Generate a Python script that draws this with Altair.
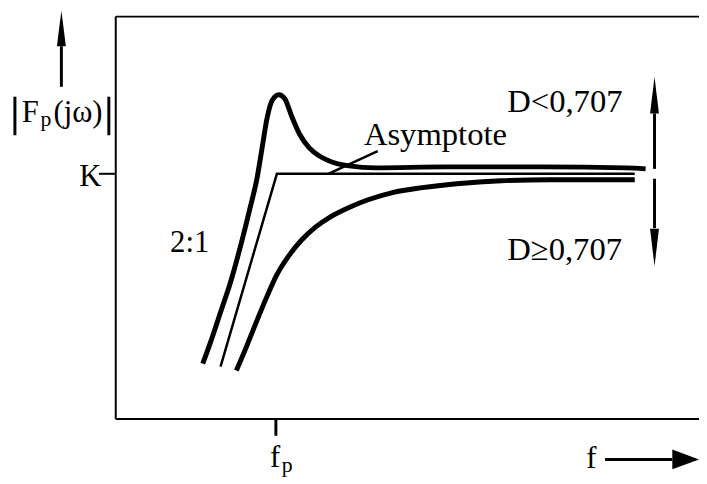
import altair as alt
import pandas as pd

# ---- data (plot units: x to the right of the frame, y above the bottom frame) ----
under_x = [88, 96, 106, 116, 126, 136, 143, 148, 153, 158, 165, 171, 178, 186, 196, 206, 216, 236, 263, 333, 433, 516, 536]
under_y = [56, 78, 108, 138, 174, 214, 244, 274, 304, 322, 328, 324, 306, 288, 274, 266, 261, 256, 254, 255, 255, 254, 253]

over_x = [122, 133, 143, 153, 163, 175, 188, 202, 218, 236, 256, 280, 310, 345, 390, 440, 490, 525]
over_y = [49, 75, 100, 124, 146, 165, 181, 194, 205, 214, 222, 229, 234, 238, 241, 242, 242, 242]

asym_x = [106, 163, 525]
asym_y = [53, 248, 248]

pointer_x = [215, 265]
pointer_y = [248, 271]

K_level = 248
fp_pos = 162

labels = ["F", "p", "(jω)", "K", "2:1", "Asymptote", "D<0,707", "D≥0,707", "f", "p", "f"]
label_x = [-95, -76, -63, -37, 55, 251, 396, 396, 156, 168, 476]
label_y = [300, 296, 300, 236, 169, 277, 311, 161, -49, -54, -50]
label_size = [31, 22, 31, 31, 31, 33, 33, 33, 31, 22, 31]

FONT = "Liberation Serif"
W, H = 590, 407

xs = alt.Scale(domain=[0, W], nice=False, zero=False)
ys = alt.Scale(domain=[0, H], nice=False, zero=False)


def curve(xv, yv, width, interp):
    df = pd.DataFrame({"x": xv, "y": yv, "i": range(len(xv))})
    return alt.Chart(df).mark_line(color="black", strokeWidth=width, interpolate=interp).encode(
        x=alt.X("x:Q", scale=xs, axis=None),
        y=alt.Y("y:Q", scale=ys, axis=None),
        order="i:Q",
    )


under = curve(under_x, under_y, 5, "monotone")
over = curve(over_x, over_y, 5, "monotone")
asym = curve(asym_x, asym_y, 2.5, "linear")
pointer = curve(pointer_x, pointer_y, 2.5, "linear")

# frame, ticks, arrow shafts, magnitude bars
rules = pd.DataFrame({
    "x":  [0, 0, 0, -17, fp_pos, -55, 545, 545, 495, -102, -7],
    "x2": [0, W, W, 0, fp_pos, -55, 545, 545, 563, -102, -7],
    "y":  [0, H, 0, K_level, -17, 336, 253, 243, -41, 287, 287],
    "y2": [H, H, 0, K_level, 0, 377, 309, 193, -41, 326, 326],
    "w":  [2, 2, 2, 2, 3, 3, 3, 3, 3, 3, 3],
})
rule_layer = alt.Chart(rules).mark_rule(color="black").encode(
    x=alt.X("x:Q", scale=xs, axis=None),
    x2="x2:Q",
    y=alt.Y("y:Q", scale=ys, axis=None),
    y2="y2:Q",
    strokeWidth=alt.StrokeWidth("w:Q", scale=None, legend=None),
)

# arrow heads
heads = pd.DataFrame({
    "x": [-55, 545, 545, 576.5],
    "y": [395, 327.5, 173.5, -41],
    "shape": [
        "M0,-1L0.25,1L-0.25,1Z",
        "M0,-1L0.243,1L-0.243,1Z",
        "M0,1L0.237,-1L-0.237,-1Z",
        "M1,0L-1,0.74L-1,-0.74Z",
    ],
    "size": [1296, 1369, 1444, 729],
})
head_layer = alt.Chart(heads).mark_point(filled=True, color="black", opacity=1, strokeWidth=0).encode(
    x=alt.X("x:Q", scale=xs, axis=None),
    y=alt.Y("y:Q", scale=ys, axis=None),
    shape=alt.Shape("shape:N", scale=None, legend=None),
    size=alt.Size("size:Q", scale=None, legend=None),
)

tdf = pd.DataFrame({"t": labels, "x": label_x, "y": label_y, "s": label_size})
text_layer = alt.Chart(tdf).mark_text(
    align="left", baseline="alphabetic", font=FONT, color="black"
).encode(
    x=alt.X("x:Q", scale=xs, axis=None),
    y=alt.Y("y:Q", scale=ys, axis=None),
    text="t:N",
    size=alt.Size("s:Q", scale=None, legend=None),
)

chart = alt.layer(rule_layer, asym, pointer, over, under, head_layer, text_layer).properties(
    width=W,
    height=H,
    autosize=alt.AutoSizeParams(type="none"),
    padding={"left": 109, "top": 6, "right": 0, "bottom": 56},
    background="white",
).configure_view(stroke=None)

chart.save("out.html", embed_options={"renderer": "svg", "actions": False})
